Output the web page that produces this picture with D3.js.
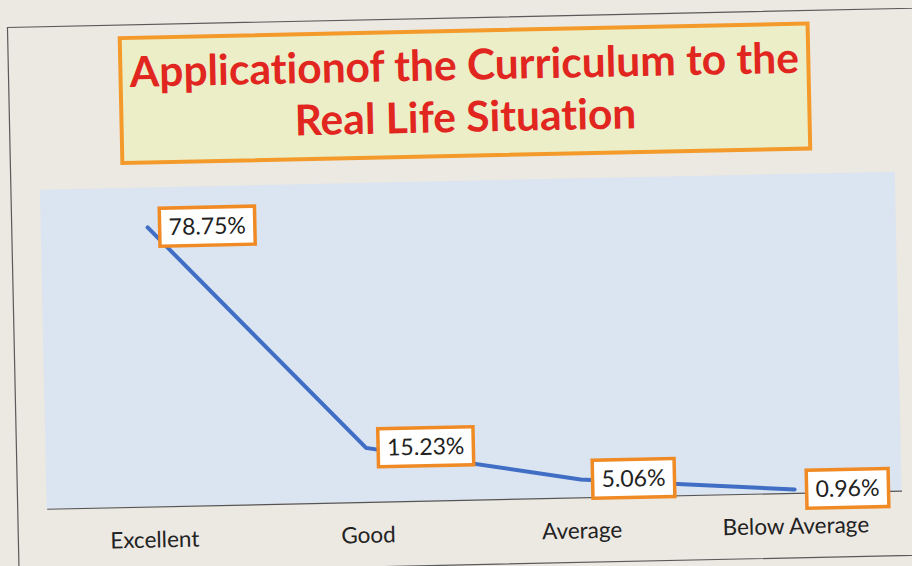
<!DOCTYPE html>
<html>
<head>
<meta charset="utf-8">
<script src="https://cdn.jsdelivr.net/npm/d3@7"></script>
<style>
  body { margin: 0; background: #ece8e2; }
  svg { display: block; font-family: Lato, "Open Sans", sans-serif; font-variant-ligatures: none; }
</style>
</head>
<body>
<div id="chart"></div>
<script>
// Data
const categories = ["Excellent", "Good", "Average", "Below Average"];
const values = [78.75, 15.23, 5.06, 0.96];
const valueLabels = ["78.75%", "15.23%", "5.06%", "0.96%"];
const titleLines = ["Applicationof the Curriculum to the", "Real Life Situation"];

// Layout
const width = 912;
const height = 566;
const plot = { left: 42, right: 897, top: 181, bottom: 500 };

const svg = d3.select("#chart").append("svg")
    .attr("width", width)
    .attr("height", height);

// paper background
svg.append("rect")
    .attr("width", width)
    .attr("height", height)
    .attr("fill", "#ece8e2");

// the scanned page is tilted a little
const g = svg.append("g")
    .attr("transform", "rotate(-1.22, 456, 283)");

// outer chart border
g.append("rect")
    .attr("x", 13)
    .attr("y", 18)
    .attr("width", 1000)
    .attr("height", 547)
    .attr("fill", "none")
    .attr("stroke", "#5a5a5a")
    .attr("stroke-width", 1.2);

// plot area background
g.append("rect")
    .attr("x", plot.left)
    .attr("y", plot.top)
    .attr("width", plot.right - plot.left)
    .attr("height", plot.bottom - plot.top)
    .attr("fill", "#dbe4f1");

// Title box
g.append("rect")
    .attr("x", 125)
    .attr("y", 31)
    .attr("width", 688)
    .attr("height", 125)
    .attr("fill", "#eceec8")
    .attr("stroke", "#f39a2a")
    .attr("stroke-width", 4);

g.selectAll(".title")
    .data(titleLines)
    .enter().append("text")
    .attr("class", "title")
    .attr("x", 469)
    .attr("y", (d, i) => 80 + i * 52)
    .attr("text-anchor", "middle")
    .style("font-size", "42.5px")
    .style("font-weight", "bold")
    .style("fill", "#e1261f")
    .text(d => d);

// Scales
const x = d3.scalePoint()
    .domain(categories)
    .range([plot.left, plot.right])
    .padding(0.5);

const y = d3.scaleLinear()
    .domain([0, 90])
    .range([plot.bottom, plot.top]);

// Axis
const axis = g.append("g")
    .attr("transform", `translate(0,${plot.bottom})`)
    .call(d3.axisBottom(x).tickSize(0).tickPadding(25));

axis.select(".domain")
    .attr("stroke", "#555")
    .attr("stroke-width", 1.2);

axis.selectAll("text")
    .style("font-family", "Lato, 'Open Sans', sans-serif")
    .style("font-size", "22.5px")
    .style("fill", "#222");

// Line
const line = d3.line()
    .x((d, i) => x(categories[i]))
    .y(d => y(d));

g.append("path")
    .datum(values)
    .attr("fill", "none")
    .attr("stroke", "#3f6ec4")
    .attr("stroke-width", 4)
    .attr("stroke-linecap", "round")
    .attr("d", line);

// Data labels
const labels = g.selectAll(".label")
    .data(values)
    .enter().append("g")
    .attr("class", "label")
    .attr("transform", (d, i) => `translate(${x(categories[i]) + 12},${y(d)})`);

labels.append("text")
    .attr("x", 9)
    .attr("y", 0)
    .attr("dy", "0.35em")
    .style("font-size", "23px")
    .style("fill", "#222")
    .text((d, i) => valueLabels[i]);

labels.each(function() {
    const lab = d3.select(this);
    const w = lab.select("text").node().getComputedTextLength();
    lab.insert("rect", "text")
        .attr("x", 0)
        .attr("y", -19)
        .attr("width", w + 18)
        .attr("height", 38)
        .attr("fill", "#ffffff")
        .attr("stroke", "#f08a24")
        .attr("stroke-width", 3.5);
});
</script>
</body>
</html>
